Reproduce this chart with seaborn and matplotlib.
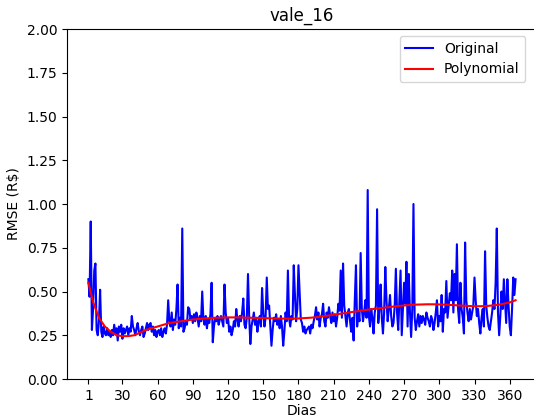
import numpy as np
import pandas as pd
import seaborn as sns
import matplotlib.pyplot as plt

# RMSE diario
original = [
    .57, .47, .90, .28, .40, .62, .66, .28, .25, .33,
    .51, .27, .24, .30, .26, .25, .29, .25, .27, .24,
    .28, .25, .31, .26, .29, .22, .30, .27, .31, .23,
    .29, .26, .28, .30, .25, .29, .27, .36, .30, .28,
    .25, .29, .32, .27, .25, .28, .30, .24, .26, .29,
    .32, .28, .31, .32, .27, .30, .25, .28, .24, .27,
    .28, .25, .29, .24, .27, .29, .26, .31, .45, .33,
    .30, .38, .28, .34, .31, .40, .54, .29, .35, .30,
    .86, .27, .29, .33, .31, .41, .40, .34, .36, .32,
    .37, .33, .38, .35, .30, .36, .33, .50, .34, .31,
    .36, .29, .34, .32, .37, .55, .21, .30, .35, .33,
    .36, .31, .34, .36, .33, .30, .54, .38, .32, .35,
    .27, .30, .25, .28, .33, .30, .40, .34, .30, .36,
    .33, .38, .46, .31, .29, .35, .60, .36, .20, .30,
    .34, .38, .31, .35, .27, .33, .36, .30, .52, .38,
    .30, .35, .58, .40, .42, .31, .19, .28, .35, .33,
    .37, .31, .34, .29, .36, .30, .19, .27, .38, .33,
    .62, .35, .30, .36, .34, .65, .48, .33, .40, .65,
    .50, .34, .32, .27, .30, .26, .28, .29, .30, .26,
    .31, .29, .33, .36, .41, .34, .38, .30, .35, .37,
    .43, .33, .30, .38, .35, .41, .36, .32, .38, .33,
    .37, .30, .35, .43, .39, .62, .35, .66, .42, .36,
    .30, .38, .40, .33, .27, .35, .22, .45, .65, .30,
    .38, .33, .72, .40, .33, .38, .45, .35, 1.08, .36,
    .30, .40, .35, .26, .38, .42, .97, .32, .40, .54,
    .35, .26, .38, .64, .45, .33, .40, .48, .36, .30,
    .32, .42, .63, .38, .28, .45, .62, .25, .40, .55,
    .43, .67, .30, .60, .38, .24, .40, 1.00, .35, .28,
    .33, .37, .30, .36, .32, .36, .34, .31, .38, .35,
    .33, .30, .36, .34, .28, .32, .38, .45, .30, .36,
    .33, .48, .27, .40, .38, .56, .35, .42, .49, .45,
    .62, .38, .60, .45, .77, .40, .32, .55, .40, .35,
    .26, .78, .45, .38, .33, .40, .34, .38, .42, .58,
    .45, .36, .40, .32, .26, .35, .40, .30, .73, .42,
    .35, .30, .28, .33, .38, .45, .40, .55, .86, .38,
    .25, .36, .50, .40, .57, .45, .32, .57, .42, .30,
    .25, .40, .58, .48, .57,
]
dias = list(range(1, len(original) + 1))

# curva polinomial (lida a cada 5 dias)
poly_dias = [1] + list(range(5, 366, 5))
poly = [
    .55, .44, .35, .30, .27, .25, .245, .245, .25, .265,
    .28, .29, .30, .31, .32, .325, .33, .335, .34, .343,
    .346, .348, .35, .351, .352, .352, .352, .351, .35, .349,
    .348, .347, .346, .345, .345, .345, .346, .348, .35, .353,
    .357, .362, .367, .372, .377, .382, .387, .392, .397, .401,
    .405, .409, .413, .417, .420, .423, .425, .426, .427, .427,
    .426, .425, .423, .421, .419, .417, .416, .416, .417, .420,
    .424, .430, .438, .45,
]

df = pd.DataFrame({"dia": dias, "rmse": original})
df_poly = pd.DataFrame({"dia": poly_dias, "rmse": poly})

fig = plt.figure(figsize=(5.34, 4.18), dpi=100)
ax = fig.add_axes([0.1255, 0.0933, 0.880, 0.8373])

sns.lineplot(data=df, x="dia", y="rmse", color="blue", label="Original", ax=ax)
sns.lineplot(data=df_poly, x="dia", y="rmse", color="red", label="Polynomial", ax=ax)

ax.set_ylim(0, 2)
ax.set_yticks(np.arange(0, 2.01, 0.25))
ax.set_xticks([1] + list(range(30, 361, 30)))
ax.set_title("vale_16")
ax.set_xlabel("Dias", labelpad=1)
ax.set_ylabel("RMSE (R$)")
ax.legend(loc="upper right", bbox_to_anchor=(0.99, 1.0))

plt.savefig("out.png", dpi=100)
